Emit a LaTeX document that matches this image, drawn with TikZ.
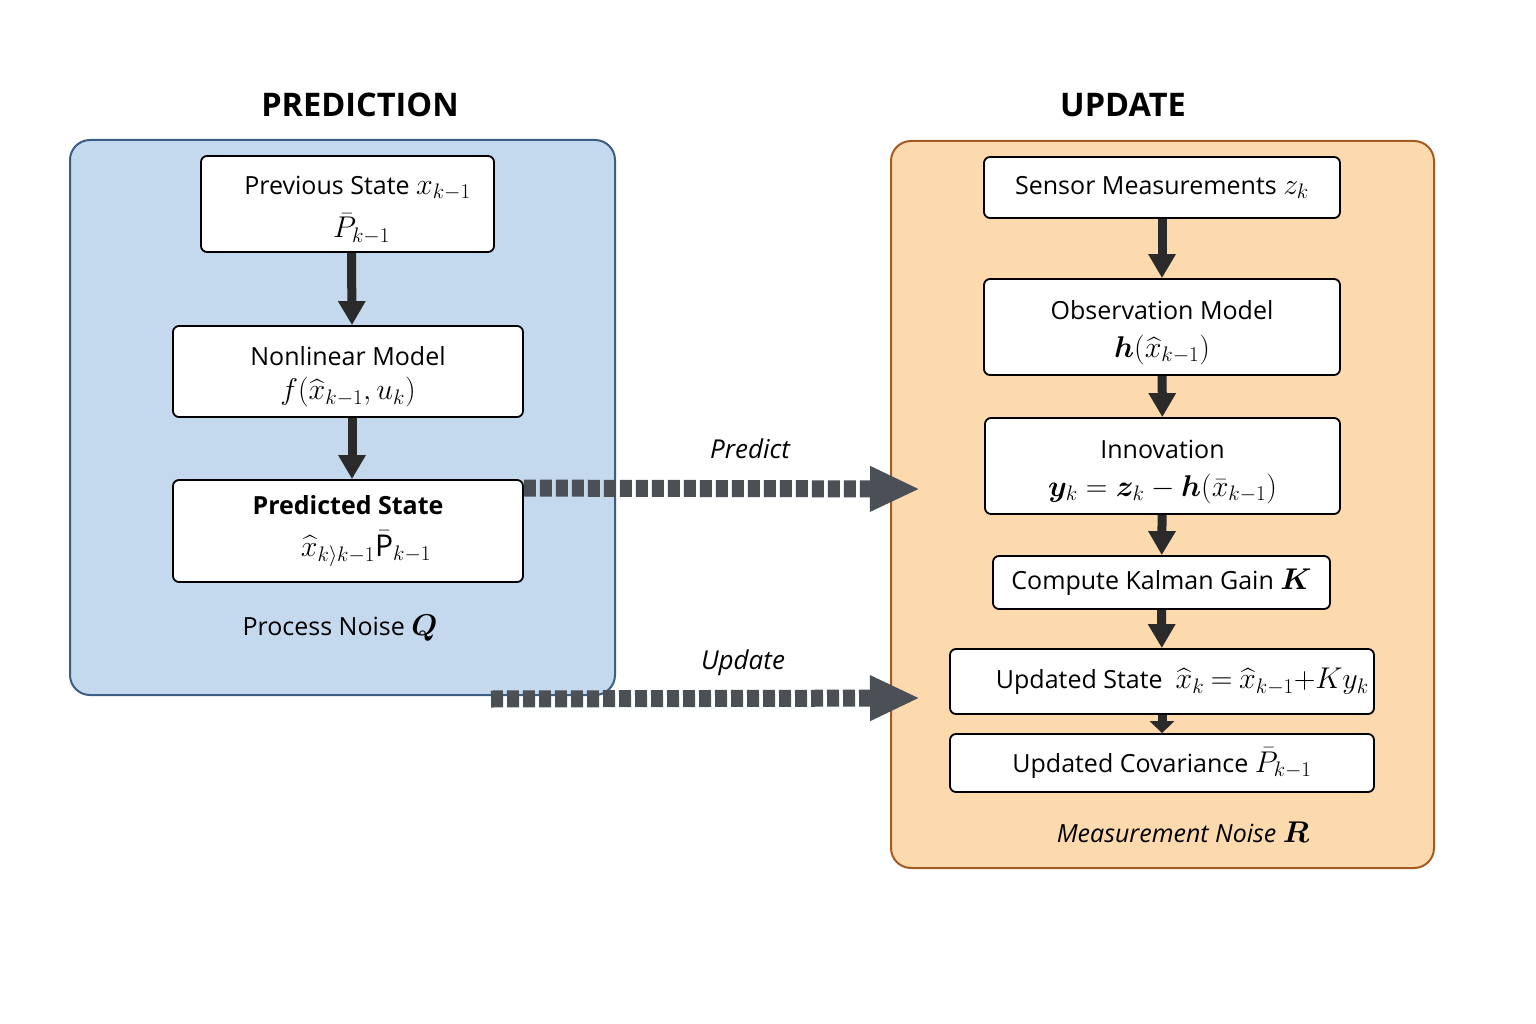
\RequirePackage{fix-cm}
\documentclass[tikz,border=0pt]{standalone}
\usepackage{amsmath,bm}
\usepackage{fontspec}
\setmainfont{Open Sans}
\usetikzlibrary{arrows.meta,calc}
\definecolor{bluefill}{HTML}{C4D8EE}
\definecolor{blueedge}{HTML}{3D5D84}
\definecolor{orfill}{HTML}{FDD9AE}
\definecolor{oredge}{HTML}{A45A20}
\definecolor{dashgray}{HTML}{4B5057}
\definecolor{arrowdark}{HTML}{2A2A2A}
\newcommand{\mth}[1]{{\fontsize{30}{30}\selectfont$#1$}}
\newcommand{\tstrut}{\rule{0pt}{30pt}}
\begin{document}
\begin{tikzpicture}[x=1pt,y=-1pt,
  panel/.style={line width=2pt,rounded corners=20pt,inner sep=0pt},
  box/.style={draw=black,line width=1.8pt,rounded corners=6pt,fill=white,align=center,inner sep=0pt,font=\fontsize{25}{30}\selectfont},
  lbl/.style={font=\fontsize{25}{30}\selectfont},
  ttl/.style={font=\fontsize{32.5}{40}\selectfont\bfseries},
  flow/.style={draw=arrowdark,line width=9pt,-{Triangle[length=24pt,width=26pt]}},
  dflow/.style={draw=dashgray,line width=17pt,dash pattern=on 12pt off 4pt,-{Triangle[length=50pt,width=42pt]}}]
\useasboundingbox (0,0) rectangle (1536,1024);
% panels
\node[panel,fill=bluefill,draw=blueedge,minimum width=545pt,minimum height=555pt] (blue) at (342.5,417.5) {};
\node[panel,fill=orfill,draw=oredge,minimum width=543pt,minimum height=727pt] (orange) at (1162.5,504.5) {};
% titles
\node[ttl] (tpred) at (360,105) {PREDICTION};
\node[ttl] (tupd) at (1123,105) {UPDATE};
% prediction boxes
\node[box,minimum width=293pt,minimum height=96pt] (b1) at (347.5,204) {\tstrut\hspace*{20pt}Previous State \mth{x_{k-1}}\\[12pt] \hspace*{28pt}\mth{\bar{P}_{k-1}}};
\node[box,minimum width=350pt,minimum height=91pt] (b2) at (348,371.5) {\tstrut Nonlinear Model\\[4pt] \mth{f(\widehat{x}_{k-1},u_k)}};
\node[box,minimum width=350pt,minimum height=102pt] (b3) at (348,531) {\textbf{Predicted State}\\[12pt] \hspace*{36pt}\mth{\widehat{x}_{k\rangle k-1}\bar{\mathrm{P}}_{k-1}}};
\node[lbl] (qn) at (340,628) {Process Noise \mth{\bm{Q}}};
% update boxes
\node[box,minimum width=356pt,minimum height=61pt] (s1) at (1162,187.5) {Sensor Measurements \mth{z_k}};
\node[box,minimum width=356pt,minimum height=96pt] (s2) at (1162,327) {\tstrut Observation Model\\[8pt] \mth{\bm{h}(\widehat{x}_{k-1})}};
\node[box,minimum width=355pt,minimum height=96pt] (s3) at (1162.5,466) {\tstrut Innovation\\[8pt] \mth{\bm{y}_k=\bm{z}_k-\bm{h}(\bar{x}_{k-1})}};
\node[box,minimum width=337pt,minimum height=53pt] (s4) at (1161.5,582.5) {Compute Kalman Gain \mth{\bm{K}}};
\node[box,minimum width=424pt,minimum height=65pt] (s5) at (1162,681.5) {};
\node[lbl,anchor=east,inner sep=0pt] (s5t) at ($(s5.east)+(-6,0)$) {Updated State\ \ \mth{\widehat{x}_k\mathbin{=}\widehat{x}_{k-1}{+}Ky_k}};
\node[box,minimum width=424pt,minimum height=58pt] (s6) at (1162,763) {Updated Covariance \mth{\bar{P}_{k-1}}};
\node[lbl,font=\fontsize{25}{30}\selectfont\itshape] (mn) at (1183,832) {Measurement Noise \mth{\bm{R}}};
% flow arrows
\draw[flow] ($(b1.south)+(4,0)$) -- ($(b2.north)+(4,0)$);
\draw[flow] ($(b2.south)+(4,0)$) -- ($(b3.north)+(4,0)$);
\draw[flow] (s1) -- (s2);
\draw[flow] (s2) -- (s3);
\draw[flow] (s3) -- (s4);
\draw[flow] (s4) -- (s5);
\draw[draw=arrowdark,line width=9pt,-{Triangle[length=12pt,width=24pt]}] (s5) -- (s6);
% dashed transfer arrows
\coordinate (pstart) at ($(b3.north east)+(0,9)$);
\coordinate (pend) at (920,489);
\coordinate (ustart) at ($(blue.south east)+(-125,3)$);
\coordinate (uend) at (920,698);
\draw[dflow] (pstart) -- (pend);
\draw[dflow] (ustart) -- (uend);
\node[font=\fontsize{26}{30}\selectfont\itshape] (lp) at (750,449) {Predict};
\node[font=\fontsize{26}{30}\selectfont\itshape] (lu) at (743,663) {Update};
\end{tikzpicture}
\end{document}
